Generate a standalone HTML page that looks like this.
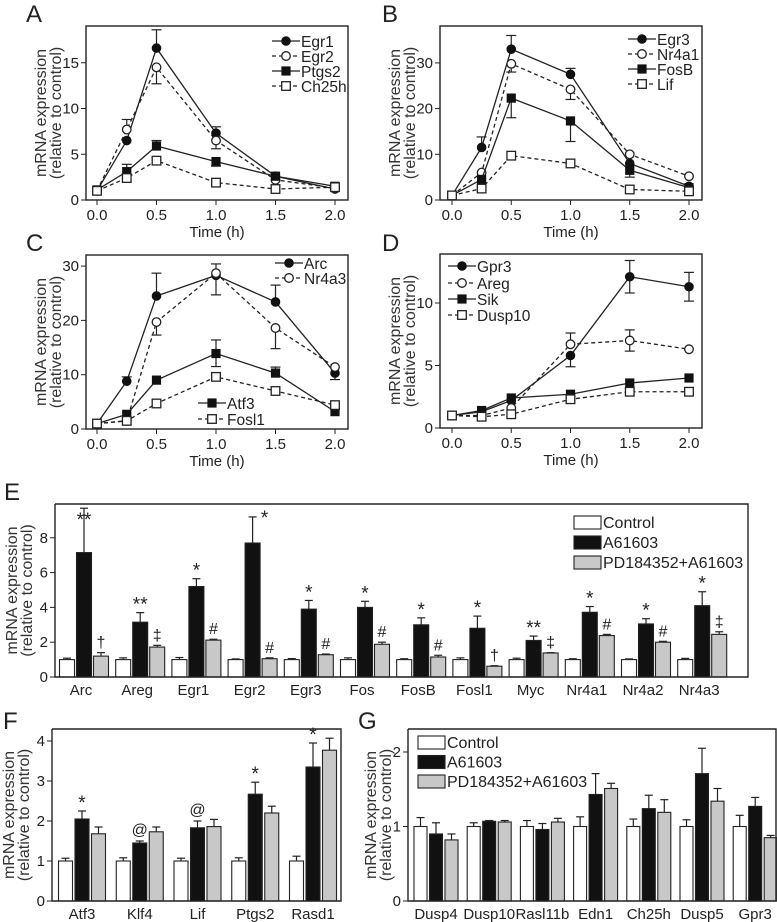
<!DOCTYPE html>
<html><head><meta charset="utf-8"><style>
html,body{margin:0;padding:0;background:#fff;}
svg{display:block;font-family:"Liberation Sans",Arial,sans-serif;}
</style></head><body>
<svg id="fig" width="777" height="922" viewBox="0 0 777 922"></svg>
<script>
// ---------- time course data ----------
const times = [0, 0.25, 0.5, 1.0, 1.5, 2.0];
const xTickLabels = ["0.0", "0.5", "1.0", "1.5", "2.0"];
const xTickValues = [0, 0.5, 1.0, 1.5, 2.0];

const aNames = ["Egr1", "Egr2", "Ptgs2", "Ch25h"];
const aEgr1 = [1, 6.5, 16.6, 7.3, 2.6, 1.2];
const aEgr2 = [1, 7.7, 14.5, 6.5, 2.2, 1.3];
const aPtgs2 = [1.1, 3.1, 5.9, 4.2, 2.6, 1.5];
const aCh25h = [1.0, 2.4, 4.3, 1.9, 1.2, 1.4];
const aEgr1Up = [0, 0, 2.0, 0.7, 0, 0];
const aEgr2Dn = [0, 0, 1.8, 0.9, 0, 0];
const aEgr2Up = [0, 1.1, 0, 0, 0, 0];
const aPtgs2Up = [0, 0.8, 0.6, 0, 0, 0];
const aPtgs2Dn = [0, 0, 0, 0.5, 0, 0];
const aYTicks = [0, 5, 10, 15];

const bNames = ["Egr3", "Nr4a1", "FosB", "Lif"];
const bEgr3 = [1, 11.5, 33, 27.5, 8, 3];
const bNr4a1 = [1, 6, 29.8, 24.2, 10, 5.2];
const bFosB = [1, 4.5, 22.3, 17.3, 6.5, 2.7];
const bLif = [1, 2.5, 9.7, 8, 2.3, 1.9];
const bEgr3Up = [0, 2.3, 3, 1.3, 0, 0];
const bNr4a1Dn = [0, 0, 1.8, 2.2, 0, 0];
const bFosBDn = [0, 0, 4.3, 4.5, 1.5, 0];
const bYTicks = [0, 10, 20, 30];

const cNames = ["Arc", "Nr4a3", "Atf3", "Fosl1"];
const cArc = [1, 8.8, 24.5, 28.3, 23.4, 10.3];
const cNr4a3 = [1, 1.5, 19.7, 28.7, 18.6, 11.4];
const cAtf3 = [1, 2.7, 9, 13.9, 10.3, 3.2];
const cFosl1 = [1, 1.5, 4.7, 9.6, 7, 4.4];
const cArcUp = [0, 0.8, 4.2, 2.1, 3.1, 0];
const cArcDn = [0, 0, 0, 0, 0, 1.2];
const cNr4a3Dn = [0, 0, 2.4, 4.0, 3.8, 0];
const cAtf3Up = [0, 0, 0, 2.5, 1.1, 0];
const cAtf3Dn = [0, 0, 0, 2.4, 0, 0];
const cYTicks = [0, 10, 20, 30];

const dNames = ["Gpr3", "Areg", "Sik", "Dusp10"];
const dGpr3 = [1, 1.3, 2.2, 5.8, 12.1, 11.3];
const dAreg = [1, 1.0, 1.6, 6.7, 7.0, 6.3];
const dSik = [1, 1.4, 2.4, 2.7, 3.6, 4.0];
const dDusp10 = [1, 0.9, 1.1, 2.3, 2.9, 2.9];
const dGpr3Up = [0, 0, 0, 0, 1.3, 1.15];
const dGpr3Dn = [0, 0, 0, 0.9, 1.3, 1.15];
const dAregUp = [0, 0, 0, 0.9, 0.85, 0];
const dAregDn = [0, 0, 0, 0, 0.85, 0];
const dYTicks = [0, 5, 10];

// ---------- bar chart data ----------
const eGenes = ["Arc","Areg","Egr1","Egr2","Egr3","Fos","FosB","Fosl1","Myc","Nr4a1","Nr4a2","Nr4a3"];
const eCtrl = [1,1,1,1,1,1,1,1,1,1,1,1];
const eCtrlErr = [0.08,0.1,0.12,0.04,0.06,0.1,0.05,0.1,0.08,0.05,0.04,0.07];
const eA6 = [7.15,3.15,5.2,7.7,3.9,4.0,3.0,2.8,2.1,3.72,3.05,4.1];
const eA6Err = [2.55,0.55,0.45,1.5,0.5,0.35,0.4,0.7,0.25,0.33,0.3,0.8];
const ePD = [1.2,1.72,2.12,1.05,1.28,1.88,1.15,0.62,1.38,2.38,2.0,2.45];
const ePDErr = [0.2,0.1,0.05,0.05,0.04,0.12,0.1,0.03,0.02,0.07,0.05,0.15];
const eA6Mark = ["**","**","*","*","*","*","*","*","**","*","*","*"];
const ePDMark = ["†","‡","#","#","#","#","#","†","‡","#","#","‡"];
const eYTicks = [0,2,4,6,8];

const fGenes = ["Atf3","Klf4","Lif","Ptgs2","Rasd1"];
const fCtrl = [1,1,1,1,1];
const fCtrlErr = [0.07,0.08,0.07,0.08,0.12];
const fA6 = [2.05,1.45,1.83,2.67,3.35];
const fA6Err = [0.2,0.05,0.17,0.3,0.6];
const fPD = [1.68,1.73,1.86,2.2,3.77];
const fPDErr = [0.17,0.12,0.18,0.17,0.3];
const fA6Mark = ["*","@","@","*","*"];
const fYTicks = [0,1,2,3,4];

const gGenes = ["Dusp4","Dusp10","Rasl11b","Edn1","Ch25h","Dusp5","Gpr3"];
const gCtrl = [1,1,1,1,1,1,1];
const gCtrlErr = [0.12,0.05,0.08,0.13,0.1,0.09,0.15];
const gA6 = [0.9,1.07,0.96,1.43,1.24,1.71,1.27];
const gA6Err = [0.15,0.01,0.08,0.28,0.18,0.34,0.12];
const gPD = [0.82,1.06,1.06,1.51,1.19,1.34,0.85];
const gPDErr = [0.08,0.02,0.05,0.07,0.17,0.17,0.03];
const gYTicks = [0,1,2];

// ---------- helpers ----------
const SVG = document.getElementById('fig');
const NS = 'http://www.w3.org/2000/svg';
function mk(parent, tag, attrs, name) {
  const e = document.createElementNS(NS, tag);
  for (const k in attrs) e.setAttribute(k, attrs[k]);
  
  
  parent.appendChild(e);
  return e;
}
function txt(parent, x, y, s, size, anchor, name, extra) {
  const t = mk(parent, 'text', Object.assign({x: x, y: y, 'font-size': size, 'text-anchor': anchor || 'middle', fill: '#222'}, extra || {}), name);
  t.textContent = s;
  return t;
}
function yTitle(g, x, cy, size) {
  const t = mk(g, 'text', {transform: 'translate(' + x + ',' + cy + ') rotate(-90)', 'font-size': size, 'text-anchor': 'middle', fill: '#333'}, 'y-axis-title');
  const t1 = mk(t, 'tspan', {x: 0, dy: 0}, 'y-axis-title-line1');
  t1.textContent = 'mRNA expression';
  const t2 = mk(t, 'tspan', {x: 0, dy: size - 1}, 'y-axis-title-line2');
  t2.textContent = '(relative to control)';
}
function marker(g, kind, x, y, name) {
  if (kind === 'fc') mk(g, 'circle', {cx: x, cy: y, r: 4.3, fill: '#111', stroke: '#111'}, name);
  else if (kind === 'oc') mk(g, 'circle', {cx: x, cy: y, r: 4.3, fill: '#fff', stroke: '#222', 'stroke-width': 1.3}, name);
  else if (kind === 'fs') mk(g, 'rect', {x: x - 4.6, y: y - 4.6, width: 9.2, height: 9.2, fill: '#111'}, name);
  else mk(g, 'rect', {x: x - 4.3, y: y - 4.3, width: 8.6, height: 8.6, fill: '#fff', stroke: '#222', 'stroke-width': 1.3}, name);
}

// ---------- line panel ----------
function linePanel(cfg) {
  const g = mk(SVG, 'g', {}, cfg.id);
  const sx = t => cfg.x0 + t * (cfg.x2 - cfg.x0) / 2;
  const sy = v => cfg.yb - v * cfg.ppu;
  mk(g, 'rect', {x: cfg.bl, y: cfg.bt, width: cfg.br - cfg.bl, height: cfg.yb - cfg.bt, fill: 'none', stroke: '#222', 'stroke-width': 1.4}, 'plot-frame');
  txt(g, cfg.lx, cfg.ly, cfg.letter, 24, 'start', 'panel-label');
  cfg.yTicks.forEach(v => {
    mk(g, 'line', {x1: cfg.bl - 5, x2: cfg.bl, y1: sy(v), y2: sy(v), stroke: '#222'}, 'y-tick');
    txt(g, cfg.bl - 7, sy(v) + 5, String(v), 15, 'end', 'y-tick-label');
  });
  xTickValues.forEach((v, i) => {
    mk(g, 'line', {x1: sx(v), x2: sx(v), y1: cfg.yb, y2: cfg.yb + 5, stroke: '#222'}, 'x-tick');
    txt(g, sx(v), cfg.yb + 20, xTickLabels[i], 15, 'middle', 'x-tick-label');
  });
  txt(g, (cfg.bl + cfg.br) / 2, cfg.yb + 37, 'Time (h)', 15, 'middle', 'x-axis-title');
  yTitle(g, cfg.bl - 40, (cfg.bt + cfg.yb) / 2, 16);
  cfg.series.forEach(s => {
    const pts = s.vals.map((v, i) => sx(times[i]) + ',' + sy(v)).join(' ');
    mk(g, 'polyline', {points: pts, fill: 'none', stroke: '#222', 'stroke-width': 1.3, 'stroke-dasharray': s.dash ? '4,3' : 'none'}, 'line-' + s.name.toLowerCase());
    s.vals.forEach((v, i) => {
      const x = sx(times[i]);
      const up = s.up ? s.up[i] : 0, dn = s.dn ? s.dn[i] : 0;
      if (up > 0) {
        mk(g, 'line', {x1: x, x2: x, y1: sy(v), y2: sy(v + up), stroke: '#222', 'stroke-width': 1.2}, 'error-bar');
        mk(g, 'line', {x1: x - 5, x2: x + 5, y1: sy(v + up), y2: sy(v + up), stroke: '#222', 'stroke-width': 1.2}, 'error-cap');
      }
      if (dn > 0) {
        mk(g, 'line', {x1: x, x2: x, y1: sy(v), y2: sy(v - dn), stroke: '#222', 'stroke-width': 1.2}, 'error-bar');
        mk(g, 'line', {x1: x - 5, x2: x + 5, y1: sy(v - dn), y2: sy(v - dn), stroke: '#222', 'stroke-width': 1.2}, 'error-cap');
      }
    });
    s.vals.forEach((v, i) => marker(g, s.mk, sx(times[i]), sy(v), 'point-' + s.name.toLowerCase()));
  });
  cfg.legend.forEach(L => {
    const s = cfg.series[L.i];
    const lg = mk(g, 'g', {}, 'legend-entry');
    mk(lg, 'line', {x1: L.x, x2: L.x + 28, y1: L.y, y2: L.y, stroke: '#222', 'stroke-width': 1.3, 'stroke-dasharray': s.dash ? '4,3' : 'none'}, 'legend-line');
    marker(lg, s.mk, L.x + 14, L.y, 'legend-marker');
    txt(lg, L.x + 29, L.y + 6, s.name, 15.5, 'start', 'legend-label');
  });
}

linePanel({id: 'panel-a', letter: 'A', lx: 26, ly: 22, bl: 86, br: 348, bt: 26, yb: 200, x0: 97, x2: 335, ppu: 9.15, yTicks: aYTicks,
  series: [
    {name: aNames[0], vals: aEgr1, mk: 'fc', dash: false, up: aEgr1Up},
    {name: aNames[1], vals: aEgr2, mk: 'oc', dash: true, up: aEgr2Up, dn: aEgr2Dn},
    {name: aNames[2], vals: aPtgs2, mk: 'fs', dash: false, up: aPtgs2Up, dn: aPtgs2Dn},
    {name: aNames[3], vals: aCh25h, mk: 'os', dash: true}],
  legend: [{i: 0, x: 272, y: 41}, {i: 1, x: 272, y: 56}, {i: 2, x: 272, y: 71}, {i: 3, x: 272, y: 86}]});

linePanel({id: 'panel-b', letter: 'B', lx: 382, ly: 22, bl: 440, br: 702, bt: 26, yb: 200, x0: 452, x2: 689, ppu: 4.57, yTicks: bYTicks,
  series: [
    {name: bNames[0], vals: bEgr3, mk: 'fc', dash: false, up: bEgr3Up},
    {name: bNames[1], vals: bNr4a1, mk: 'oc', dash: true, dn: bNr4a1Dn},
    {name: bNames[2], vals: bFosB, mk: 'fs', dash: false, dn: bFosBDn},
    {name: bNames[3], vals: bLif, mk: 'os', dash: true}],
  legend: [{i: 0, x: 628, y: 39}, {i: 1, x: 628, y: 54}, {i: 2, x: 628, y: 69}, {i: 3, x: 628, y: 84}]});

linePanel({id: 'panel-c', letter: 'C', lx: 26, ly: 251, bl: 86, br: 348, bt: 255, yb: 429, x0: 97, x2: 335, ppu: 5.43, yTicks: cYTicks,
  series: [
    {name: cNames[0], vals: cArc, mk: 'fc', dash: false, up: cArcUp, dn: cArcDn},
    {name: cNames[1], vals: cNr4a3, mk: 'oc', dash: true, dn: cNr4a3Dn},
    {name: cNames[2], vals: cAtf3, mk: 'fs', dash: false, up: cAtf3Up, dn: cAtf3Dn},
    {name: cNames[3], vals: cFosl1, mk: 'os', dash: true}],
  legend: [{i: 0, x: 275, y: 263}, {i: 1, x: 275, y: 278}, {i: 2, x: 198, y: 403}, {i: 3, x: 198, y: 419}]});

linePanel({id: 'panel-d', letter: 'D', lx: 382, ly: 251, bl: 440, br: 702, bt: 254, yb: 428, x0: 452, x2: 689, ppu: 12.5, yTicks: dYTicks,
  series: [
    {name: dNames[0], vals: dGpr3, mk: 'fc', dash: false, up: dGpr3Up, dn: dGpr3Dn},
    {name: dNames[1], vals: dAreg, mk: 'oc', dash: true, up: dAregUp, dn: dAregDn},
    {name: dNames[2], vals: dSik, mk: 'fs', dash: false},
    {name: dNames[3], vals: dDusp10, mk: 'os', dash: true}],
  legend: [{i: 0, x: 448, y: 266}, {i: 1, x: 448, y: 283}, {i: 2, x: 448, y: 299}, {i: 3, x: 448, y: 315}]});

// ---------- bar panel ----------
const barFills = ['#fff', '#111', '#c8c8c8'];
const legendLabels = ['Control', 'A61603', 'PD184352+A61603'];
function barPanel(cfg) {
  const g = mk(SVG, 'g', {}, cfg.id);
  const sy = v => cfg.yb - v * cfg.ppu;
  const gx = i => cfg.g0 + i * cfg.gs;
  txt(g, cfg.lx, cfg.ly, cfg.letter, 24, 'start', 'panel-label');
  yTitle(g, cfg.bl - (cfg.ytOff || 38), (cfg.bt + cfg.yb) / 2, 16);
  cfg.yTicks.forEach(v => {
    mk(g, 'line', {x1: cfg.bl - 5, x2: cfg.bl, y1: sy(v), y2: sy(v), stroke: '#222'}, 'y-tick');
    txt(g, cfg.bl - 7, sy(v) + 5, String(v), 15, 'end', 'y-tick-label');
  });
  const groups = [[cfg.ctrl, cfg.ctrlErr], [cfg.a6, cfg.a6Err], [cfg.pd, cfg.pdErr]];
  cfg.genes.forEach((name, i) => {
    const cg = mk(g, 'g', {}, 'bar-group-' + name.toLowerCase());
    groups.forEach((sv, k) => {
      const cx = gx(i) + (k - 1) * cfg.off;
      const v = sv[0][i], e = sv[1][i];
      mk(cg, 'line', {x1: cx, x2: cx, y1: sy(v), y2: sy(v + e), stroke: '#222', 'stroke-width': 1.2}, 'error-bar');
      mk(cg, 'line', {x1: cx - 4, x2: cx + 4, y1: sy(v + e), y2: sy(v + e), stroke: '#222', 'stroke-width': 1.2}, 'error-cap');
      mk(cg, 'rect', {x: cx - cfg.bw / 2, y: sy(v), width: cfg.bw, height: v * cfg.ppu, fill: barFills[k], stroke: '#222', 'stroke-width': 1.1}, 'bar-' + name.toLowerCase() + '-' + ['control', 'a61603', 'pd'][k]);
    });
    txt(cg, gx(i) + (cfg.lblOff || 0), cfg.yb + 18, name, 15, 'middle', 'x-tick-label');
    if (cfg.a6Mark && cfg.a6Mark[i]) {
      const top = cfg.a6[i] + cfg.a6Err[i];
      const isAt = cfg.a6Mark[i] === '@';
      const mx = cfg.markDx && cfg.markDx[i] ? gx(i) + cfg.markDx[i] : gx(i);
      const base = cfg.markY && cfg.markY[i] ? sy(cfg.markY[i]) + 9 : sy(top) - (isAt ? 6 : 2);
      txt(cg, mx, base, cfg.a6Mark[i], isAt ? 16 : 19, 'middle', 'significance-mark');
    }
    if (cfg.pdMark && cfg.pdMark[i]) {
      const top = cfg.pd[i] + cfg.pdErr[i];
      txt(cg, gx(i) + cfg.off, sy(top) - 5, cfg.pdMark[i], 16, 'middle', 'significance-mark-pd');
    }
  });
  mk(g, 'polyline', {points: cfg.bl + ',' + cfg.bt + ' ' + cfg.bl + ',' + cfg.yb + ' ' + cfg.br + ',' + cfg.yb + (cfg.frame ? ' ' + cfg.br + ',' + cfg.bt + ' ' + cfg.bl + ',' + cfg.bt : ''), fill: 'none', stroke: '#222', 'stroke-width': 1.4}, 'plot-frame');
  if (cfg.leg) {
    legendLabels.forEach((s, k) => {
      const lg = mk(g, 'g', {}, 'legend-entry');
      mk(lg, 'rect', {x: cfg.leg.x, y: cfg.leg.y + k * cfg.leg.dy - 6, width: 27, height: 13, fill: barFills[k], stroke: '#222', 'stroke-width': 1.1}, 'legend-swatch');
      txt(lg, cfg.leg.x + 29, cfg.leg.y + k * cfg.leg.dy + 6, s, 16, 'start', 'legend-label');
    });
  }
}

barPanel({id: 'panel-e', letter: 'E', lx: 4, ly: 500, bl: 55, br: 748, bt: 504, yb: 677, ppu: 17.4, yTicks: eYTicks, frame: true,
  genes: eGenes, ctrl: eCtrl, ctrlErr: eCtrlErr, a6: eA6, a6Err: eA6Err, pd: ePD, pdErr: ePDErr,
  a6Mark: eA6Mark, pdMark: ePDMark, markDx: [0,0,0,12,0,0,0,0,0,0,0,0], markY: [9.2,0,0,9.3,0,0,0,0,0,0,0,0],
  g0: 84, gs: 56.2, off: 17, bw: 15, lblOff: -3, leg: {x: 574, y: 522, dy: 20}});

barPanel({id: 'panel-f', letter: 'F', lx: 3, ly: 729, bl: 52, br: 341, bt: 729, yb: 901, ppu: 40, yTicks: fYTicks, frame: true,
  genes: fGenes, ctrl: fCtrl, ctrlErr: fCtrlErr, a6: fA6, a6Err: fA6Err, pd: fPD, pdErr: fPDErr,
  a6Mark: fA6Mark, g0: 82, gs: 57.75, off: 16.5, bw: 14});

barPanel({id: 'panel-g', letter: 'G', lx: 358, ly: 729, bl: 408, br: 776, bt: 729, yb: 901, ppu: 74.5, yTicks: gYTicks, frame: true, ytOff: 32,
  genes: gGenes, ctrl: gCtrl, ctrlErr: gCtrlErr, a6: gA6, a6Err: gA6Err, pd: gPD, pdErr: gPDErr,
  g0: 436, gs: 53.2, off: 15.5, bw: 13, leg: {x: 418, y: 742, dy: 19.5}});
</script>
</body></html>
